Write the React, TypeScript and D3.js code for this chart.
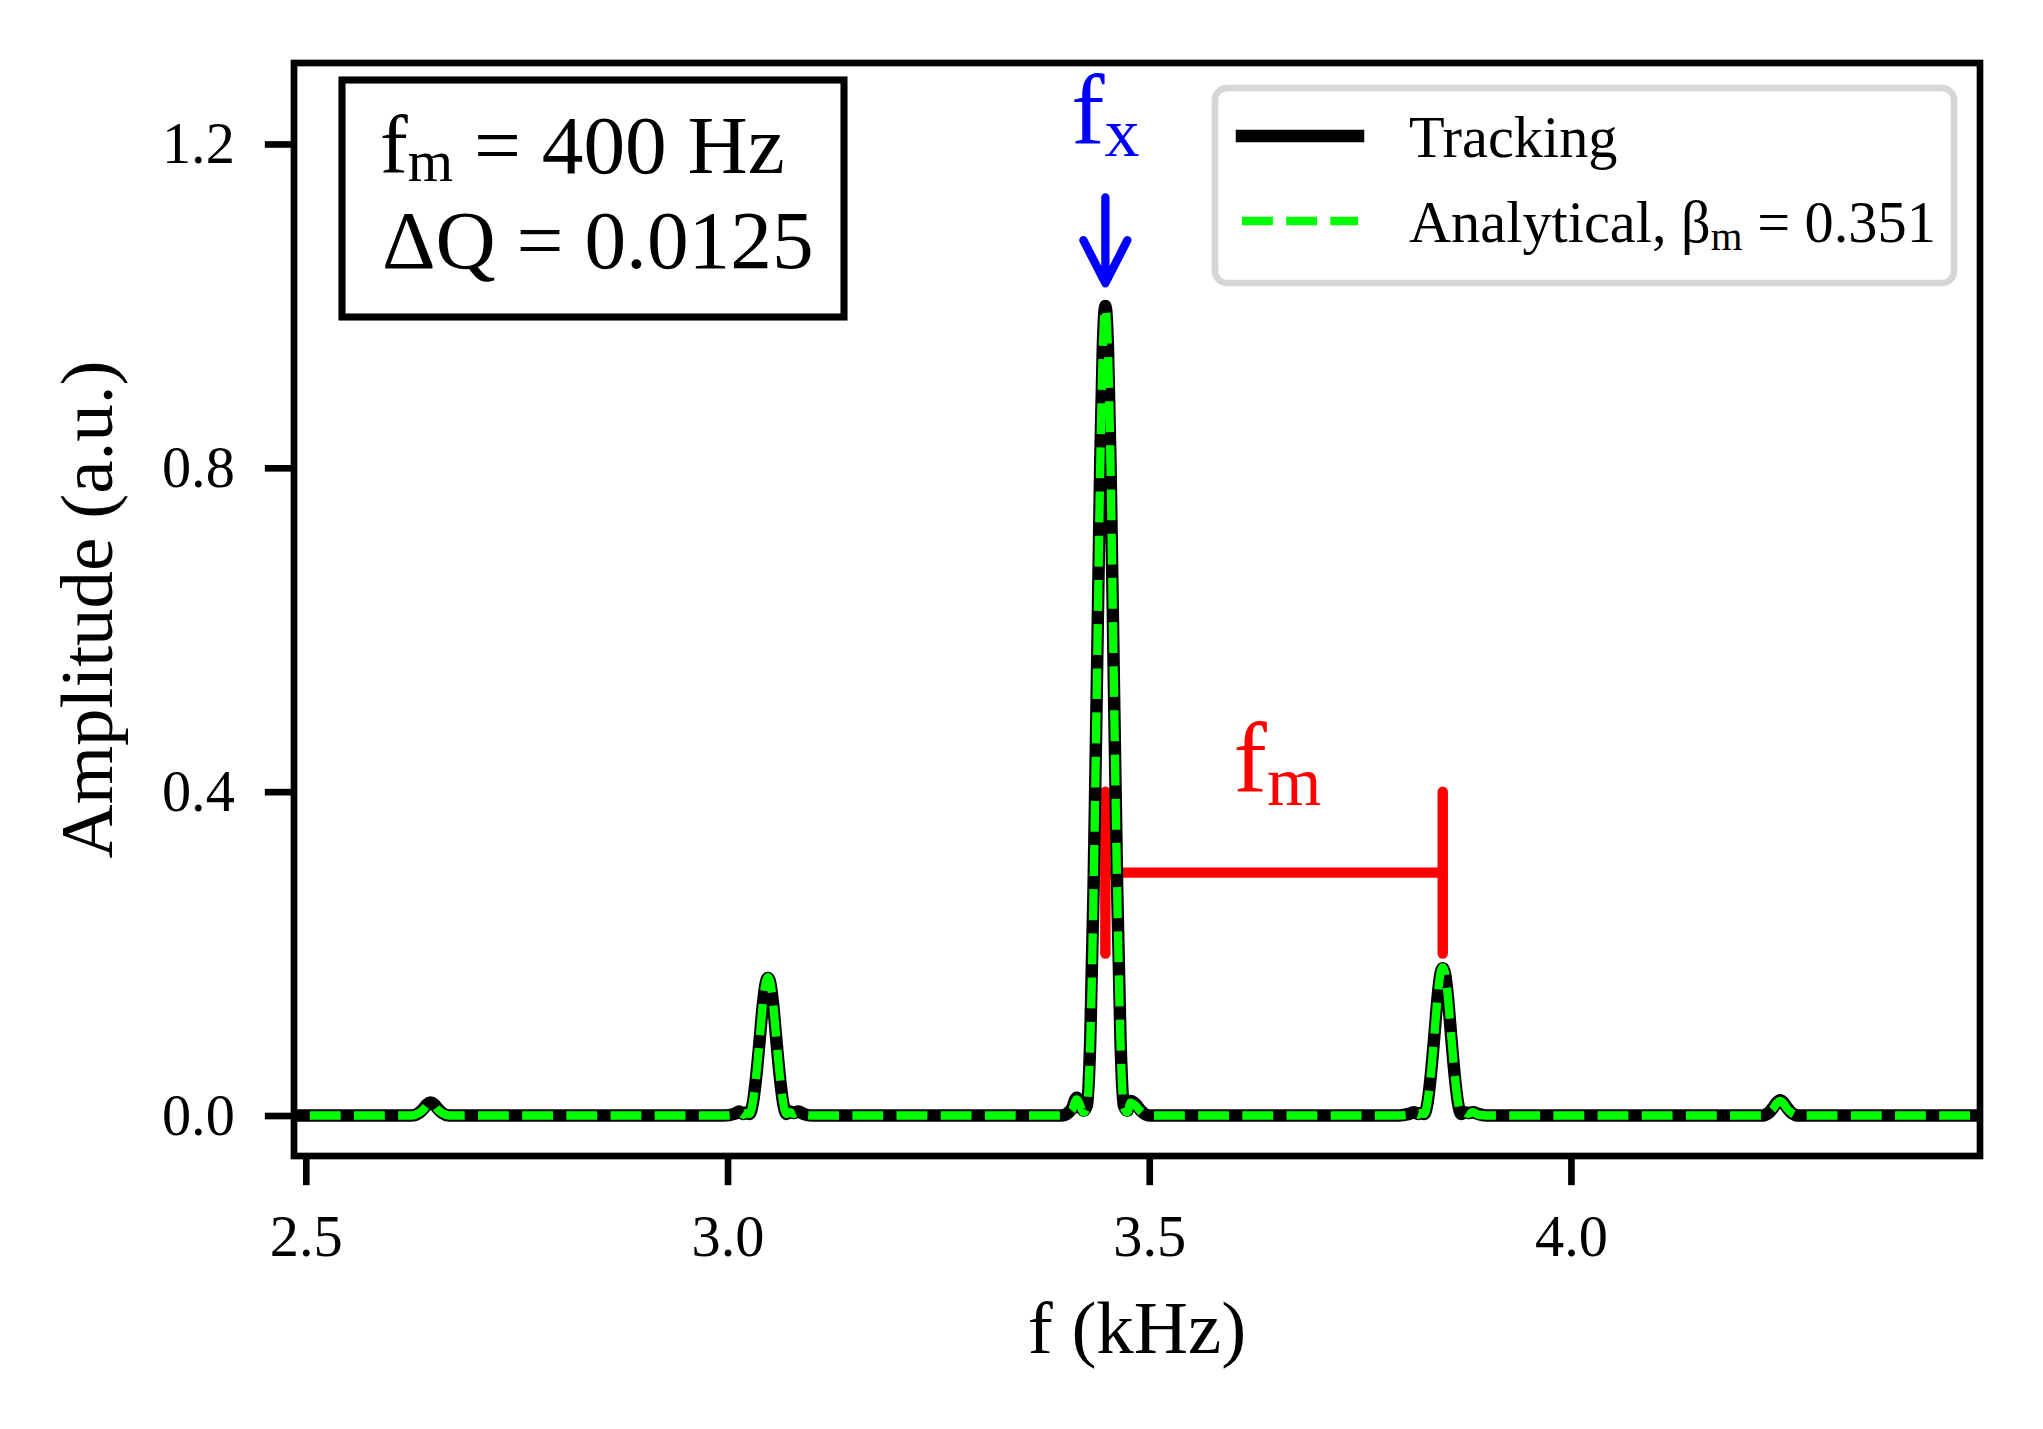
import React, { useEffect, useRef } from "react";
import * as d3 from "d3";

// Spectrum: shared frequency grid (kHz), one line per region
const freqKHz = [
    2.40,
    2.620, 2.626, 2.634, 2.640, 2.644, 2.648, 2.652, 2.656, 2.662, 2.670, 2.676,
    2.996, 3.008, 3.014, 3.019, 3.022, 3.026, 3.030, 3.034, 3.038, 3.042, 3.045, 3.048, 3.051, 3.054, 3.058, 3.062, 3.066, 3.070, 3.074, 3.078, 3.084, 3.090, 3.100,
    3.396, 3.408, 3.414, 3.419, 3.422, 3.426, 3.430, 3.434, 3.438, 3.442, 3.445, 3.448, 3.451, 3.454, 3.458, 3.462, 3.466, 3.470, 3.474, 3.478, 3.484, 3.490, 3.500,
    3.796, 3.808, 3.814, 3.819, 3.822, 3.826, 3.830, 3.834, 3.838, 3.842, 3.845, 3.848, 3.851, 3.854, 3.858, 3.862, 3.866, 3.870, 3.874, 3.878, 3.884, 3.890, 3.900,
    4.220, 4.226, 4.234, 4.240, 4.244, 4.248, 4.252, 4.256, 4.262, 4.270, 4.276,
    4.60,
];

const tracking = [
    0,
    0, 0, 0.003, 0.009, 0.014, 0.016, 0.014, 0.009, 0.003, 0, 0,
    0, 0.002, 0.005, 0.002, 0.004, 0.002, 0.015, 0.048, 0.092, 0.138, 0.162, 0.170, 0.162, 0.138, 0.092, 0.048, 0.015, 0.002, 0.005, 0.003, 0.005, 0.002, 0,
    0, 0.008, 0.022, 0.012, 0.006, 0.012, 0.09, 0.28, 0.54, 0.81, 0.95, 1.0, 0.95, 0.81, 0.54, 0.28, 0.09, 0.012, 0.006, 0.018, 0.014, 0.006, 0,
    0, 0.002, 0.004, 0.002, 0.003, 0.002, 0.016, 0.051, 0.098, 0.147, 0.173, 0.182, 0.173, 0.147, 0.098, 0.051, 0.016, 0.002, 0.004, 0.003, 0.004, 0.002, 0,
    0, 0, 0.003, 0.010, 0.016, 0.019, 0.016, 0.010, 0.003, 0, 0,
    0,
];

const analytical = [
    0,
    0, 0, 0.003, 0.008, 0.013, 0.015, 0.013, 0.008, 0.003, 0, 0,
    0, 0.001, 0.004, 0.001, 0.003, 0.002, 0.016, 0.049, 0.093, 0.139, 0.163, 0.171, 0.163, 0.139, 0.093, 0.049, 0.016, 0.002, 0.004, 0.002, 0.004, 0.001, 0,
    0, 0.006, 0.020, 0.010, 0.004, 0.010, 0.088, 0.278, 0.538, 0.808, 0.948, 0.998, 0.948, 0.808, 0.538, 0.278, 0.088, 0.010, 0.004, 0.016, 0.012, 0.005, 0,
    0, 0.001, 0.004, 0.001, 0.003, 0.002, 0.017, 0.052, 0.099, 0.148, 0.174, 0.183, 0.174, 0.148, 0.099, 0.052, 0.017, 0.002, 0.004, 0.002, 0.004, 0.001, 0,
    0, 0, 0.003, 0.009, 0.015, 0.018, 0.015, 0.009, 0.003, 0, 0,
    0,
];

const xDomain = [2.486, 4.485];
const yDomain = [-0.05, 1.3];
const xTicks = [2.5, 3.0, 3.5, 4.0];
const yTicks = [0.0, 0.4, 0.8, 1.2];

// annotations (data coordinates)
const fxPos = { f: 3.448, label: 1.2, tail: 1.134, tip: 1.028 };
const fmBracket = [3.448, 3.848];
const fmBracketY = { low: 0.2, mid: 0.3, high: 0.4 };
const fmLabel = { f: 3.6, a: 0.4 };

const legendLabels = ["Tracking", "Analytical, "];

const W = 2043;
const H = 1429;
const PT = 600 / 72;
const AX = { left: 294, right: 1980, top: 63, bottom: 1156 };
const FONT = "'Liberation Serif', 'Times New Roman', 'DejaVu Serif', serif";

type Part = { t: string; sub?: boolean };
type Line = { x: number; y: number; parts: Part[] };

// one <text> holding one or more lines with mathtext-like subscripts
function mathText(
    g: d3.Selection<SVGGElement, unknown, null, undefined>,
    lines: Line[], size: number,
    color = "#000", anchor = "start", shift = 0.13
) {
    const t = g.append("text")
        .attr("font-size", size).attr("font-family", FONT)
        .attr("fill", color).attr("text-anchor", anchor)
        .style("white-space", "pre");
    lines.forEach((ln) => {
        let down = 0;
        ln.parts.forEach((p, i) => {
            const want = p.sub ? size * shift : 0;
            const sp = t.append("tspan").attr("font-size", p.sub ? size * 0.7 : size);
            if (i === 0) sp.attr("x", ln.x).attr("y", ln.y + want);
            else sp.attr("dy", want - down);
            sp.text(p.t);
            down = want;
        });
    });
    return t;
}

const App: React.FC = () => {
    const svgRef = useRef<SVGSVGElement | null>(null);

    useEffect(() => {
        if (!svgRef.current) return;
        document.body.style.margin = "0";

        const root = d3.select(svgRef.current);
        root.selectAll("*").remove();
        const svg = root.append("g");

        const x = d3.scaleLinear().domain(xDomain).range([AX.left, AX.right]);
        const y = d3.scaleLinear().domain(yDomain).range([AX.bottom, AX.top]);

        svg.append("rect").attr("width", W).attr("height", H).attr("fill", "#fff");

        const defs = svg.append("defs");
        defs.append("clipPath").attr("id", "plot-clip").append("rect")
            .attr("x", AX.left).attr("y", AX.top)
            .attr("width", AX.right - AX.left).attr("height", AX.bottom - AX.top);

        const plot = svg.append("g").attr("clip-path", "url(#plot-clip)");

        // ── red f_m bracket (under the curves) ──────────────────────────────
        const br = plot.append("g")
            .attr("stroke", "#ff0000").attr("stroke-width", 1.25 * PT)
            .attr("stroke-linecap", "round").attr("fill", "none");
        br.append("line")
            .attr("x1", x(fmBracket[0])).attr("x2", x(fmBracket[1]))
            .attr("y1", y(fmBracketY.mid)).attr("y2", y(fmBracketY.mid));
        fmBracket.forEach((f) => {
            br.append("line")
                .attr("x1", x(f)).attr("x2", x(f))
                .attr("y1", y(fmBracketY.low)).attr("y2", y(fmBracketY.high));
        });

        // ── curves ─────────────────────────────────────────────────────────
        const line = d3.line<number>()
            .x((_, i) => x(freqKHz[i]))
            .y((d) => y(d))
            .curve(d3.curveMonotoneX);

        plot.append("path")
            .attr("d", line(tracking))
            .attr("fill", "none").attr("stroke", "#000000")
            .attr("stroke-width", 1.5 * PT)
            .attr("stroke-linejoin", "round").attr("stroke-linecap", "square");

        plot.append("path")
            .attr("d", line(analytical))
            .attr("fill", "none").attr("stroke", "#00ff00")
            .attr("stroke-width", PT)
            .attr("stroke-dasharray", `${3.7 * PT},${1.6 * PT}`)
            .attr("stroke-linejoin", "round");

        // ── spines ─────────────────────────────────────────────────────────
        svg.append("rect")
            .attr("x", AX.left).attr("y", AX.top)
            .attr("width", AX.right - AX.left).attr("height", AX.bottom - AX.top)
            .attr("fill", "none").attr("stroke", "#000").attr("stroke-width", 0.8 * PT);

        // ── axes ───────────────────────────────────────────────────────────
        const xAxis = svg.append("g")
            .attr("transform", `translate(0,${AX.bottom})`)
            .call(d3.axisBottom(x).tickValues(xTicks).tickSize(3.5 * PT).tickPadding(29)
                .tickFormat(d3.format(".1f")));
        const yAxis = svg.append("g")
            .attr("transform", `translate(${AX.left},0)`)
            .call(d3.axisLeft(y).tickValues(yTicks).tickSize(3.5 * PT).tickPadding(30)
                .tickFormat(d3.format(".1f")));
        [xAxis, yAxis].forEach((a) => {
            a.select(".domain").remove();
            a.attr("font-family", FONT).attr("font-size", 7 * PT);
            a.selectAll("line").attr("stroke", "#000").attr("stroke-width", 0.8 * PT);
            a.selectAll("text").attr("fill", "#000");
        });

        svg.append("text")
            .attr("x", (AX.left + AX.right) / 2).attr("y", 1353)
            .attr("text-anchor", "middle")
            .attr("font-family", FONT).attr("font-size", 9 * PT)
            .text("f (kHz)");

        svg.append("text")
            .attr("transform", `translate(112,${(AX.top + AX.bottom) / 2}) rotate(-90)`)
            .attr("text-anchor", "middle")
            .attr("font-family", FONT).attr("font-size", 9 * PT)
            .text("Amplitude (a.u.)");

        // ── f_x annotation ─────────────────────────────────────────────────
        const ann = svg.append("g");
        mathText(ann, [{ x: x(fxPos.f), y: y(fxPos.label), parts: [{ t: "f" }, { t: "x", sub: true }] }],
            12 * PT, "#0000ff", "middle", 0.12);
        const ax0 = x(fxPos.f);
        const yTail = y(fxPos.tail);
        const yTip = y(fxPos.tip);
        ann.append("path")
            .attr("d", `M${ax0},${yTail}L${ax0},${yTip}M${ax0 - 22},${yTip - 43}L${ax0},${yTip}L${ax0 + 22},${yTip - 43}`)
            .attr("fill", "none").attr("stroke", "#0000ff").attr("stroke-width", PT)
            .attr("stroke-linecap", "round").attr("stroke-linejoin", "round");

        // ── f_m label ──────────────────────────────────────────────────────
        mathText(ann, [{ x: x(fmLabel.f), y: y(fmLabel.a), parts: [{ t: "f" }, { t: "m", sub: true }] }],
            12 * PT, "#ff0000", "start", 0.13);

        // ── parameter box ──────────────────────────────────────────────────
        const box = svg.append("g");
        box.append("rect")
            .attr("x", 342).attr("y", 80).attr("width", 502).attr("height", 237)
            .attr("fill", "#fff").attr("stroke", "#000").attr("stroke-width", 0.85 * PT);
        mathText(box, [
            { x: 380, y: 173, parts: [{ t: "f" }, { t: "m", sub: true }, { t: " = 400 Hz" }] },
            { x: 382, y: 268, parts: [{ t: "\u0394Q = 0.0125" }] },
        ], 10 * PT, "#000", "start", 0.09);

        // ── legend ─────────────────────────────────────────────────────────
        const lg = svg.append("g");
        lg.append("rect")
            .attr("x", 1215).attr("y", 88).attr("width", 739).attr("height", 195)
            .attr("rx", 12).attr("ry", 12)
            .attr("fill", "#fff").attr("stroke", "#d6d6d6").attr("stroke-width", 0.8 * PT);
        lg.append("line")
            .attr("x1", 1242).attr("x2", 1358).attr("y1", 136).attr("y2", 136)
            .attr("stroke", "#000").attr("stroke-width", 1.5 * PT).attr("stroke-linecap", "square");
        lg.append("line")
            .attr("x1", 1242).attr("x2", 1358).attr("y1", 221).attr("y2", 221)
            .attr("stroke", "#00ff00").attr("stroke-width", PT)
            .attr("stroke-dasharray", `${3.7 * PT},${1.6 * PT}`);
        lg.append("text")
            .attr("x", 1409).attr("y", 157)
            .attr("font-family", FONT).attr("font-size", 7 * PT)
            .text(legendLabels[0]);
        mathText(lg, [{ x: 1409, y: 242, parts: [{ t: legendLabels[1] + "\u03B2" }, { t: "m", sub: true }, { t: " = 0.351" }] }],
            7 * PT, "#000", "start", 0.13);
    }, []);

    return (
        <svg ref={svgRef} width={W} height={H} style={{ display: "block" }} />
    );
};

export default App;
